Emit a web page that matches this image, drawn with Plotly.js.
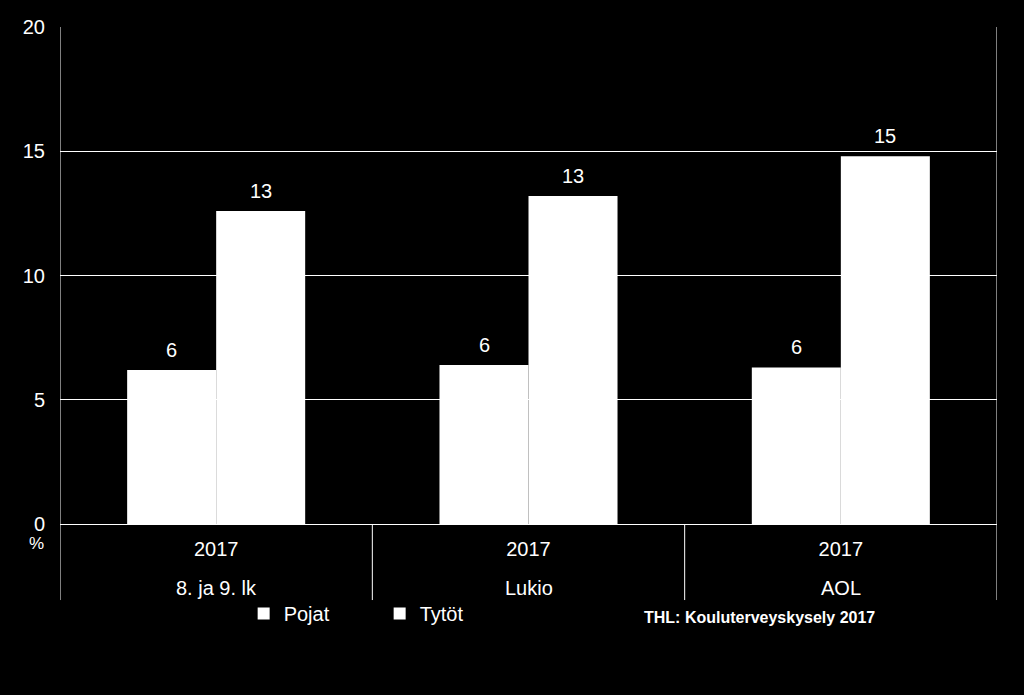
<!DOCTYPE html>
<html><head><meta charset="utf-8">
<script src="https://cdn.plot.ly/plotly-3.0.1.min.js"></script>
<style>html,body{margin:0;padding:0;background:#000;}#chart{width:1024px;height:695px;}</style>
</head><body><div id="chart"></div>
<script>
const groups = ["8. ja 9. lk", "Lukio", "AOL"];
const years = ["2017", "2017", "2017"];
const seriesNames = ["Pojat", "Tytöt"];
const pojat = [6.2, 6.4, 6.3];
const tytot = [12.6, 13.2, 14.8];
const yTicks = [0, 5, 10, 15, 20];
const sourceText = "THL: Kouluterveyskysely 2017";
const unitText = "%";

const FONT = "Liberation Sans, Arial, sans-serif";
const mk = (name, y) => ({
  type: "bar", name: name, x: groups, y: y,
  marker: {color: "#ffffff", line: {width: 0}},
  hoverinfo: "skip"
});
const data = [mk(seriesNames[0], pojat), mk(seriesNames[1], tytot)];

// value labels above bars
const BAR_SHIFT = 44.5;
const labelAnns = [];
[pojat, tytot].forEach((series, si) => {
  series.forEach((v, i) => {
    labelAnns.push({text: String(Math.round(v)), xref: "x", yref: "y", x: groups[i], y: v,
      xshift: si === 0 ? -BAR_SHIFT : BAR_SHIFT, yshift: 7, yanchor: "bottom",
      showarrow: false, font: {size: 20, color: "#fff", family: FONT}});
  });
});
// group labels under the year labels
const groupAnns = groups.map(g => ({text: g, xref: "x", yref: "paper", x: g, y: -0.1288,
  yanchor: "middle", showarrow: false, font: {size: 20, color: "#fff", family: FONT}}));
// dividers between groups
const dividers = [];
for (let k = 0; k <= groups.length; k++) {
  dividers.push({type: "line", xref: "x", yref: "paper", x0: k - 0.5, x1: k - 0.5,
    y0: k === 0 || k === groups.length ? 1 : 0, y1: -0.153, line: {color: "#fff", width: 1}});
}

const layout = {
  width: 1024, height: 695,
  paper_bgcolor: "#000", plot_bgcolor: "#000",
  margin: {l: 60, r: 27, t: 27, b: 171},
  font: {family: FONT, color: "#fff", size: 20},
  barmode: "group", bargap: 0.43, bargroupgap: 0,
  showlegend: true,
  legend: {orientation: "h", x: 0.196, xanchor: "left", y: -0.18, yanchor: "middle",
           font: {size: 20, color: "#fff", family: FONT}, bgcolor: "rgba(0,0,0,0)",
           entrywidth: 91, entrywidthmode: "pixels", traceorder: "normal"},
  xaxis: {type: "category", tickvals: groups, ticktext: years, showline: true, linecolor: "#fff", linewidth: 1,
          tickfont: {size: 20, color: "#fff", family: FONT}, ticks: "", showgrid: false,
          ticklabelstandoff: 7, range: [-0.5, 2.5]},
  yaxis: {range: [0, 20], tickvals: yTicks, ticktext: yTicks.map(String),
          showgrid: true, gridcolor: "#ffffff", gridwidth: 1,
          showline: false, zeroline: false,
          ticks: "", ticklabelstandoff: 14,
          tickfont: {size: 20, color: "#fff", family: FONT}},
  shapes: dividers,
  annotations: labelAnns.concat(groupAnns, [
    {text: unitText, xref: "paper", yref: "paper", x: -0.015, y: -0.04, xanchor: "right", yanchor: "middle",
     showarrow: false, font: {size: 17, color: "#fff", family: FONT}},
    {text: "<b>" + sourceText + "</b>", xref: "paper", yref: "paper", x: 0.747, y: -0.188,
     xanchor: "center", yanchor: "middle", showarrow: false,
     font: {size: 16, color: "#fff", family: FONT}}
  ])
};
Plotly.newPlot("chart", data, layout, {displayModeBar: false, staticPlot: true});
</script></body></html>
